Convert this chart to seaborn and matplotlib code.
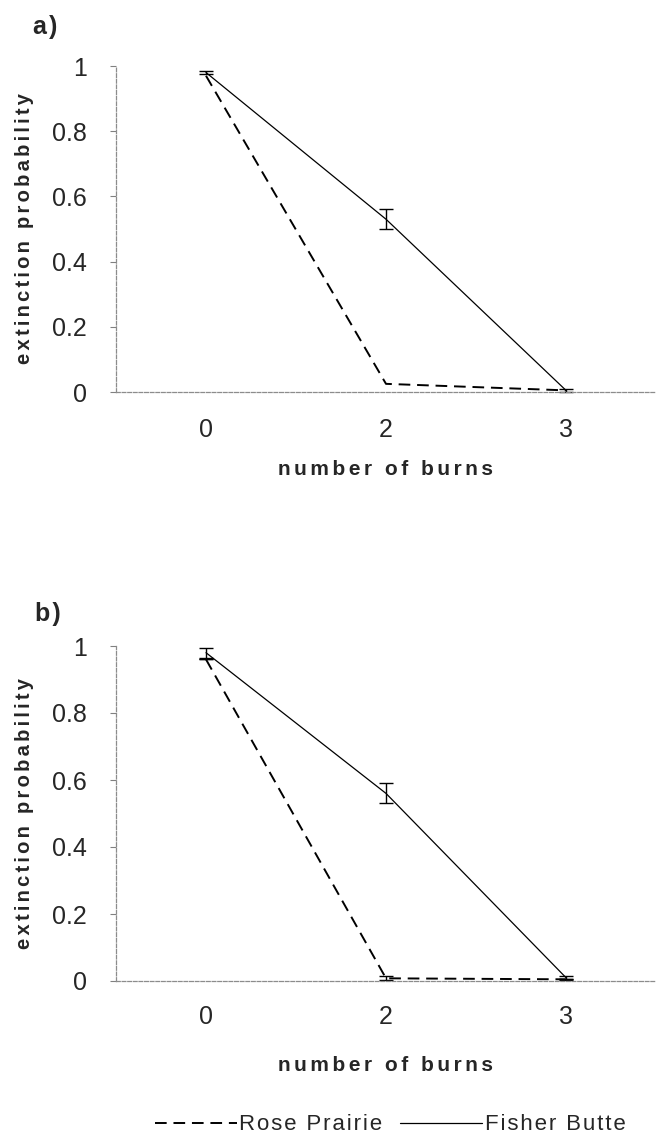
import matplotlib
matplotlib.use("Agg")
import matplotlib.pyplot as plt
import seaborn as sns
import pandas as pd
from matplotlib.lines import Line2D

sns.set_style("white")
plt.rcParams["font.family"] = ["Liberation Sans", "DejaVu Sans"]

# Number of burns (categorical x axis)
burns = ["0", "2", "3"]
sites = ["Rose Prairie", "Fisher Butte"]

# Panel a: extinction probability
rose_a = [0.97, 0.025, 0.005]
fisher_a = [0.98, 0.53, 0.005]
fisher_a_err = [0.005, 0.03, 0.004]

# Panel b: extinction probability
rose_b = [0.96, 0.008, 0.005]
rose_b_err = [0.0, 0.006, 0.0]
fisher_b = [0.98, 0.56, 0.01]
fisher_b_err = [0.015, 0.03, 0.006]

HS = "\u200a"


def spaced(s, n=1):
    return (HS * n).join(s)


def make_frame(rose, fisher):
    pos = list(range(len(burns)))
    return pd.DataFrame({
        "pos": pos * 2,
        "burns": burns * 2,
        "site": [sites[0]] * len(burns) + [sites[1]] * len(burns),
        "prob": list(rose) + list(fisher),
    })


fig = plt.figure(figsize=(6.57, 11.48), dpi=100)
W, H = 657, 1148


def panel(rect_px, rose, fisher, fisher_err, rose_err, label, label_xy, xpad, xlabelpad):
    left, top, right, bottom = rect_px
    ax = fig.add_axes([left / W, 1 - bottom / H, (right - left) / W, (bottom - top) / H])
    df = make_frame(rose, fisher)
    sns.lineplot(data=df, x="pos", y="prob", style="site", style_order=sites,
                 dashes={sites[0]: (6, 3.5), sites[1]: ""},
                 color="black", legend=False, ax=ax, clip_on=False)
    lines = ax.get_lines()
    lines[0].set_linewidth(1.4)
    lines[1].set_linewidth(0.9)
    ax.errorbar(range(len(burns)), fisher, yerr=fisher_err, fmt="none",
                ecolor="black", elinewidth=1.0, capsize=4.7, capthick=1.0, clip_on=False)
    if rose_err is not None:
        ax.errorbar(range(len(burns)), rose, yerr=rose_err, fmt="none",
                    ecolor="black", elinewidth=1.0, capsize=4.7, capthick=1.0, clip_on=False)
    ax.set_xlim(-0.5, 2.5)
    ax.set_ylim(0, 1)
    ax.set_xticks([-0.5, 0.5, 1.5])
    ax.set_xticklabels([])
    ax.set_xticks(range(len(burns)), minor=True)
    ax.set_xticklabels(burns, minor=True, fontsize=18)
    ax.tick_params(axis="x", which="major", length=5, width=0.8, color="0.5", direction="out")
    ax.tick_params(axis="x", which="minor", length=0, pad=xpad)
    ax.set_yticks([0, 0.2, 0.4, 0.6, 0.8, 1.0])
    ax.set_yticklabels(["0", "0.2", "0.4", "0.6", "0.8", "1"], fontsize=18)
    ax.tick_params(axis="y", length=4, width=0.8, color="0.5", direction="out", pad=17, left=True)
    for s in ["top", "right"]:
        ax.spines[s].set_visible(False)
    for s in ["left", "bottom"]:
        ax.spines[s].set_color("0.55")
        ax.spines[s].set_linewidth(0.9)
        ax.spines[s].set_linestyle((0, (3, 1.5)))
    ax.set_xlabel(spaced("number of burns", 2), fontsize=15, fontweight="bold", labelpad=xlabelpad)
    ax.set_ylabel(spaced("extinction probability", 2), fontsize=14.5, fontweight="bold", labelpad=13)
    fig.text(label_xy[0] / W, 1 - label_xy[1] / H, label, fontsize=18, fontweight="bold",
             ha="left", va="center")
    return ax


panel((116, 66, 656, 392), rose_a, fisher_a, fisher_a_err, None, "a" + HS + ")", (33, 27), 19, 13)
panel((116, 646, 656, 981), rose_b, fisher_b, fisher_b_err, rose_b_err, "b" + HS + ")", (35, 614), 17, 20)

handles = [
    Line2D([], [], color="black", lw=1.4, linestyle=(0, (6, 3.5))),
    Line2D([], [], color="black", lw=0.9, linestyle="-"),
]
fig.legend(handles, [spaced(s, 1) for s in sites], loc="center",
           bbox_to_anchor=(390 / W, 1 - 1125 / H), ncol=2, frameon=False,
           fontsize=16, handlelength=3.7, handletextpad=0.1, columnspacing=0.8)

fig.savefig("out.png", dpi=100, facecolor="white")
